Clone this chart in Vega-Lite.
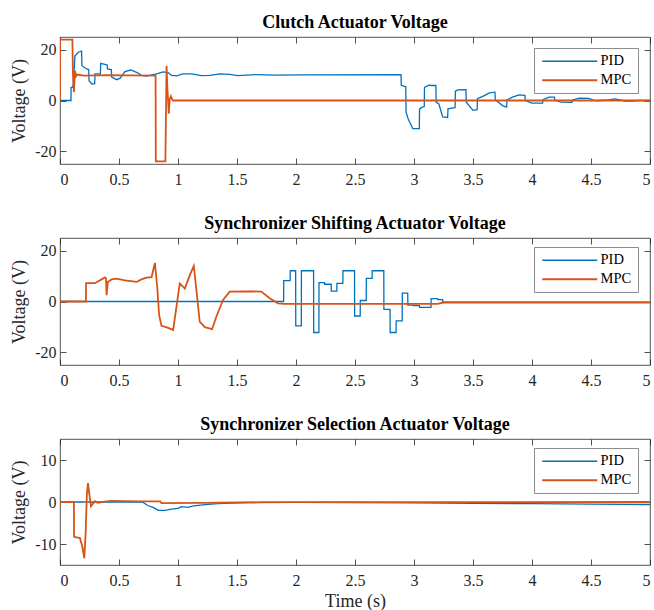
{
  "$schema": "https://vega.github.io/schema/vega-lite/v6.json",
  "padding": {"left": 10, "top": 13, "right": 2, "bottom": 2},
  "config": {
    "font": "Liberation Serif",
    "view": {"stroke": "#262626", "strokeWidth": 0.8},
    "axis": {"labelFont": "Liberation Serif", "labelFontSize": 16, "labelColor": "#262626", "tickColor": "#262626", "tickSize": -6, "tickWidth": 0.8, "labelPadding": 13, "domain": false, "grid": false, "titleFont": "Liberation Serif", "titleFontSize": 18, "titleFontWeight": "normal", "titleColor": "#262626"},
    "title": {"font": "Liberation Serif", "fontSize": 18, "fontWeight": "bold", "color": "#000000", "offset": 5},
    "legend": {"labelFont": "Liberation Serif", "labelFontSize": 14.5, "labelColor": "#000000"}
  },
  "datasets": {
    "p1": [
      {"s":"PID","t":0,"v":0},{"s":"PID","t":0.093,"v":0},{"s":"PID","t":0.094,"v":5.2},{"s":"PID","t":0.107,"v":5.2},{"s":"PID","t":0.112,"v":6},{"s":"PID","t":0.127,"v":17.6},{"s":"PID","t":0.155,"v":19},{"s":"PID","t":0.183,"v":19.4},{"s":"PID","t":0.186,"v":13.7},{"s":"PID","t":0.225,"v":12.4},{"s":"PID","t":0.243,"v":12.2},{"s":"PID","t":0.246,"v":7.8},{"s":"PID","t":0.27,"v":6.5},{"s":"PID","t":0.294,"v":6.6},{"s":"PID","t":0.297,"v":10.5},{"s":"PID","t":0.342,"v":10.5},{"s":"PID","t":0.345,"v":14.6},{"s":"PID","t":0.4,"v":14},{"s":"PID","t":0.402,"v":12.4},{"s":"PID","t":0.435,"v":12.2},{"s":"PID","t":0.438,"v":9.2},{"s":"PID","t":0.48,"v":8.2},{"s":"PID","t":0.51,"v":8.8},{"s":"PID","t":0.55,"v":11.4},{"s":"PID","t":0.6,"v":12},{"s":"PID","t":0.654,"v":11},{"s":"PID","t":0.69,"v":9.9},{"s":"PID","t":0.73,"v":9.6},{"s":"PID","t":0.818,"v":10.5},{"s":"PID","t":0.874,"v":11.3},{"s":"PID","t":0.916,"v":11},{"s":"PID","t":0.945,"v":9.9},{"s":"PID","t":0.99,"v":9.7},{"s":"PID","t":1.04,"v":10.5},{"s":"PID","t":1.114,"v":10.5},{"s":"PID","t":1.2,"v":9.8},{"s":"PID","t":1.27,"v":9.9},{"s":"PID","t":1.354,"v":10.5},{"s":"PID","t":1.438,"v":10.3},{"s":"PID","t":1.506,"v":9.8},{"s":"PID","t":1.66,"v":10.2},{"s":"PID","t":1.83,"v":10},{"s":"PID","t":2.06,"v":10.1},{"s":"PID","t":2.89,"v":10.2},{"s":"PID","t":2.892,"v":6.0},{"s":"PID","t":2.93,"v":5.4},{"s":"PID","t":2.933,"v":-4.6},{"s":"PID","t":2.95,"v":-7.2},{"s":"PID","t":2.99,"v":-11.1},{"s":"PID","t":3.045,"v":-11.1},{"s":"PID","t":3.047,"v":-3.3},{"s":"PID","t":3.07,"v":-2.6},{"s":"PID","t":3.087,"v":-2.4},{"s":"PID","t":3.089,"v":5.2},{"s":"PID","t":3.13,"v":6.1},{"s":"PID","t":3.153,"v":5.9},{"s":"PID","t":3.185,"v":5.9},{"s":"PID","t":3.188,"v":-0.7},{"s":"PID","t":3.21,"v":-1.3},{"s":"PID","t":3.243,"v":-6.5},{"s":"PID","t":3.285,"v":-6.7},{"s":"PID","t":3.288,"v":-3.3},{"s":"PID","t":3.33,"v":-2.9},{"s":"PID","t":3.348,"v":-2.8},{"s":"PID","t":3.351,"v":3.7},{"s":"PID","t":3.37,"v":4.2},{"s":"PID","t":3.44,"v":4.3},{"s":"PID","t":3.443,"v":-0.7},{"s":"PID","t":3.5,"v":-3.9},{"s":"PID","t":3.52,"v":-3.7},{"s":"PID","t":3.535,"v":-3.6},{"s":"PID","t":3.538,"v":0.7},{"s":"PID","t":3.6,"v":2.0},{"s":"PID","t":3.64,"v":3.0},{"s":"PID","t":3.686,"v":3.3},{"s":"PID","t":3.689,"v":0.3},{"s":"PID","t":3.75,"v":-2.0},{"s":"PID","t":3.785,"v":-2.6},{"s":"PID","t":3.788,"v":0.2},{"s":"PID","t":3.835,"v":1.3},{"s":"PID","t":3.89,"v":2.2},{"s":"PID","t":3.94,"v":2.0},{"s":"PID","t":3.943,"v":0},{"s":"PID","t":4.0,"v":-1.0},{"s":"PID","t":4.09,"v":-1.0},{"s":"PID","t":4.093,"v":0.3},{"s":"PID","t":4.145,"v":1.3},{"s":"PID","t":4.19,"v":1.3},{"s":"PID","t":4.193,"v":0.2},{"s":"PID","t":4.245,"v":-0.65},{"s":"PID","t":4.34,"v":-0.7},{"s":"PID","t":4.343,"v":0.2},{"s":"PID","t":4.4,"v":0.9},{"s":"PID","t":4.48,"v":0.8},{"s":"PID","t":4.54,"v":-0.1},{"s":"PID","t":4.65,"v":0.2},{"s":"PID","t":4.7,"v":0.65},{"s":"PID","t":4.79,"v":-0.2},{"s":"PID","t":4.85,"v":-0.25},{"s":"PID","t":4.9,"v":0},{"s":"PID","t":5,"v":0},
      {"s":"MPC","t":0,"v":0},{"s":"MPC","t":0.001,"v":24},{"s":"MPC","t":0.105,"v":24},{"s":"MPC","t":0.11,"v":10},{"s":"MPC","t":0.118,"v":3.3},{"s":"MPC","t":0.127,"v":11.8},{"s":"MPC","t":0.135,"v":9.5},{"s":"MPC","t":0.145,"v":10.2},{"s":"MPC","t":0.2,"v":9.8},{"s":"MPC","t":0.4,"v":10},{"s":"MPC","t":0.6,"v":9.9},{"s":"MPC","t":0.81,"v":9.8},{"s":"MPC","t":0.812,"v":-24},{"s":"MPC","t":0.893,"v":-24},{"s":"MPC","t":0.903,"v":13.7},{"s":"MPC","t":0.91,"v":5},{"s":"MPC","t":0.922,"v":-5.2},{"s":"MPC","t":0.93,"v":0.5},{"s":"MPC","t":0.94,"v":1.7},{"s":"MPC","t":0.955,"v":0},{"s":"MPC","t":5,"v":0}
    ],
    "p2": [
      {"s":"PID","t":0,"v":0},{"s":"PID","t":1.895,"v":0},{"s":"PID","t":1.896,"v":8.2},{"s":"PID","t":1.95,"v":8.2},{"s":"PID","t":1.951,"v":12.1},{"s":"PID","t":1.997,"v":12.1},{"s":"PID","t":1.998,"v":-9.6},{"s":"PID","t":2.045,"v":-9.6},{"s":"PID","t":2.046,"v":12.1},{"s":"PID","t":2.149,"v":12.1},{"s":"PID","t":2.15,"v":-12.2},{"s":"PID","t":2.194,"v":-12.2},{"s":"PID","t":2.195,"v":7.4},{"s":"PID","t":2.242,"v":7.4},{"s":"PID","t":2.243,"v":6.8},{"s":"PID","t":2.298,"v":6.8},{"s":"PID","t":2.299,"v":4.1},{"s":"PID","t":2.346,"v":4.1},{"s":"PID","t":2.347,"v":7.1},{"s":"PID","t":2.397,"v":7.1},{"s":"PID","t":2.398,"v":12.1},{"s":"PID","t":2.496,"v":12.1},{"s":"PID","t":2.497,"v":-5.7},{"s":"PID","t":2.544,"v":-5.7},{"s":"PID","t":2.545,"v":0.4},{"s":"PID","t":2.595,"v":0.4},{"s":"PID","t":2.596,"v":9.1},{"s":"PID","t":2.645,"v":9.1},{"s":"PID","t":2.646,"v":12.1},{"s":"PID","t":2.744,"v":12.1},{"s":"PID","t":2.745,"v":-3.1},{"s":"PID","t":2.797,"v":-3.1},{"s":"PID","t":2.798,"v":-12.2},{"s":"PID","t":2.848,"v":-12.2},{"s":"PID","t":2.849,"v":-7.6},{"s":"PID","t":2.9,"v":-7.6},{"s":"PID","t":2.901,"v":3.3},{"s":"PID","t":2.947,"v":3.3},{"s":"PID","t":2.948,"v":-1.4},{"s":"PID","t":2.995,"v":-1.4},{"s":"PID","t":2.996,"v":-1.6},{"s":"PID","t":3.046,"v":-1.6},{"s":"PID","t":3.047,"v":-2.3},{"s":"PID","t":3.144,"v":-2.3},{"s":"PID","t":3.145,"v":1.1},{"s":"PID","t":3.2,"v":1.1},{"s":"PID","t":3.201,"v":0.7},{"s":"PID","t":3.243,"v":0.7},{"s":"PID","t":3.244,"v":-0.3},{"s":"PID","t":5,"v":-0.3},
      {"s":"MPC","t":0,"v":0},{"s":"MPC","t":0.22,"v":0},{"s":"MPC","t":0.221,"v":7.2},{"s":"MPC","t":0.296,"v":7.2},{"s":"MPC","t":0.367,"v":9.1},{"s":"MPC","t":0.38,"v":9.5},{"s":"MPC","t":0.39,"v":9.2},{"s":"MPC","t":0.395,"v":2.5},{"s":"MPC","t":0.405,"v":7.7},{"s":"MPC","t":0.437,"v":8.7},{"s":"MPC","t":0.48,"v":9.0},{"s":"MPC","t":0.55,"v":8.3},{"s":"MPC","t":0.649,"v":7.7},{"s":"MPC","t":0.69,"v":8.7},{"s":"MPC","t":0.733,"v":9.4},{"s":"MPC","t":0.776,"v":9.6},{"s":"MPC","t":0.804,"v":15.2},{"s":"MPC","t":0.824,"v":5.7},{"s":"MPC","t":0.84,"v":-5.3},{"s":"MPC","t":0.86,"v":-9.6},{"s":"MPC","t":0.9,"v":-10.1},{"s":"MPC","t":0.959,"v":-11.2},{"s":"MPC","t":1.015,"v":7.1},{"s":"MPC","t":1.058,"v":5.1},{"s":"MPC","t":1.1,"v":10.4},{"s":"MPC","t":1.134,"v":14},{"s":"MPC","t":1.156,"v":4.5},{"s":"MPC","t":1.184,"v":-7.9},{"s":"MPC","t":1.227,"v":-10.1},{"s":"MPC","t":1.289,"v":-10.9},{"s":"MPC","t":1.326,"v":-5.8},{"s":"MPC","t":1.382,"v":0.6},{"s":"MPC","t":1.438,"v":3.9},{"s":"MPC","t":1.6,"v":4.0},{"s":"MPC","t":1.706,"v":3.9},{"s":"MPC","t":1.777,"v":1.3},{"s":"MPC","t":1.847,"v":-0.7},{"s":"MPC","t":1.9,"v":-0.9},{"s":"MPC","t":3.2,"v":-0.9},{"s":"MPC","t":3.25,"v":-0.4},{"s":"MPC","t":5,"v":-0.4}
    ],
    "p3": [
      {"s":"PID","t":0,"v":0},{"s":"PID","t":0.697,"v":0},{"s":"PID","t":0.747,"v":-0.9},{"s":"PID","t":0.79,"v":-1.3},{"s":"PID","t":0.832,"v":-2.0},{"s":"PID","t":0.888,"v":-2.0},{"s":"PID","t":0.945,"v":-1.7},{"s":"PID","t":1.0,"v":-1.5},{"s":"PID","t":1.03,"v":-1.1},{"s":"PID","t":1.086,"v":-1.3},{"s":"PID","t":1.12,"v":-1.0},{"s":"PID","t":1.17,"v":-0.8},{"s":"PID","t":1.255,"v":-0.55},{"s":"PID","t":1.34,"v":-0.4},{"s":"PID","t":1.452,"v":-0.25},{"s":"PID","t":1.59,"v":-0.15},{"s":"PID","t":2.0,"v":-0.1},{"s":"PID","t":2.5,"v":-0.12},{"s":"PID","t":3.0,"v":-0.2},{"s":"PID","t":3.5,"v":-0.3},{"s":"PID","t":4.0,"v":-0.4},{"s":"PID","t":4.5,"v":-0.5},{"s":"PID","t":5,"v":-0.6},
      {"s":"MPC","t":0,"v":0},{"s":"MPC","t":0.118,"v":0},{"s":"MPC","t":0.119,"v":-8.3},{"s":"MPC","t":0.169,"v":-8.6},{"s":"MPC","t":0.189,"v":-10.6},{"s":"MPC","t":0.206,"v":-13.4},{"s":"MPC","t":0.217,"v":-7.5},{"s":"MPC","t":0.228,"v":2.0},{"s":"MPC","t":0.237,"v":4.5},{"s":"MPC","t":0.248,"v":2.0},{"s":"MPC","t":0.262,"v":-1.0},{"s":"MPC","t":0.279,"v":-0.4},{"s":"MPC","t":0.296,"v":0.2},{"s":"MPC","t":0.32,"v":-0.2},{"s":"MPC","t":0.38,"v":0.1},{"s":"MPC","t":0.437,"v":0.25},{"s":"MPC","t":0.663,"v":0.15},{"s":"MPC","t":0.85,"v":0.15},{"s":"MPC","t":0.86,"v":-0.25},{"s":"MPC","t":1.2,"v":-0.2},{"s":"MPC","t":1.7,"v":-0.05},{"s":"MPC","t":5,"v":0}
    ]
  },
  "vconcat": [
    {
      "title": "Clutch Actuator Voltage",
      "width": 590, "height": 127,
      "data": {"name": "p1"},
      "layer": [
        {"mark": {"type": "line", "clip": true},
         "encoding": {
           "x": {"field": "t", "type": "quantitative", "scale": {"domain": [0, 5], "nice": false}, "axis": {"title": null, "values": [0,0.5,1,1.5,2,2.5,3,3.5,4,4.5,5], "labelExpr": "'' + datum.value"}},
           "y": {"field": "v", "type": "quantitative", "scale": {"domain": [-25, 25], "nice": false}, "axis": {"title": "Voltage (V)", "values": [-20,0,20], "labelExpr": "'' + datum.value", "labelPadding": 10, "titlePadding": 6}},
           "strokeWidth": {"field": "s", "type": "nominal", "scale": {"domain": ["PID","MPC"], "range": [1.3, 1.8]}, "legend": null},
           "color": {"field": "s", "type": "nominal", "scale": {"domain": ["PID","MPC"], "range": ["#0072BD","#D95319"]}, "legend": {"title": null, "orient": "none", "legendX": 474, "legendY": 11, "symbolType": "M-1,0H10", "symbolSize": 100, "symbolStrokeWidth": 1.4, "labelOffset": 46, "strokeColor": "#8c8c8c", "fillColor": "#ffffff", "padding": 6, "rowPadding": 4}}
         }},
        {"mark": {"type": "line", "opacity": 0},
         "encoding": {
           "x": {"field": "t", "type": "quantitative", "axis": {"orient": "top", "title": null, "labels": false, "values": [0,0.5,1,1.5,2,2.5,3,3.5,4,4.5,5]}},
           "y": {"field": "v", "type": "quantitative", "axis": {"orient": "right", "title": null, "labels": false, "values": [-20,0,20]}}
         }}
      ],
      "resolve": {"axis": {"x": "independent", "y": "independent"}}
    },
    {
      "title": "Synchronizer Shifting Actuator Voltage",
      "width": 590, "height": 127,
      "data": {"name": "p2"},
      "layer": [
        {"mark": {"type": "line", "clip": true},
         "encoding": {
           "x": {"field": "t", "type": "quantitative", "scale": {"domain": [0, 5], "nice": false}, "axis": {"title": null, "values": [0,0.5,1,1.5,2,2.5,3,3.5,4,4.5,5], "labelExpr": "'' + datum.value"}},
           "y": {"field": "v", "type": "quantitative", "scale": {"domain": [-25, 25], "nice": false}, "axis": {"title": "Voltage (V)", "values": [-20,0,20], "labelExpr": "'' + datum.value", "labelPadding": 10, "titlePadding": 6}},
           "strokeWidth": {"field": "s", "type": "nominal", "scale": {"domain": ["PID","MPC"], "range": [1.3, 1.8]}, "legend": null},
           "color": {"field": "s", "type": "nominal", "scale": {"domain": ["PID","MPC"], "range": ["#0072BD","#D95319"]}, "legend": {"title": null, "orient": "none", "legendX": 474, "legendY": 9, "symbolType": "M-1,0H10", "symbolSize": 100, "symbolStrokeWidth": 1.4, "labelOffset": 46, "strokeColor": "#8c8c8c", "fillColor": "#ffffff", "padding": 6, "rowPadding": 4}}
         }},
        {"mark": {"type": "line", "opacity": 0},
         "encoding": {
           "x": {"field": "t", "type": "quantitative", "axis": {"orient": "top", "title": null, "labels": false, "values": [0,0.5,1,1.5,2,2.5,3,3.5,4,4.5,5]}},
           "y": {"field": "v", "type": "quantitative", "axis": {"orient": "right", "title": null, "labels": false, "values": [-20,0,20]}}
         }}
      ],
      "resolve": {"axis": {"x": "independent", "y": "independent"}}
    },
    {
      "title": "Synchronizer Selection Actuator Voltage",
      "width": 590, "height": 126,
      "data": {"name": "p3"},
      "layer": [
        {"mark": {"type": "line", "clip": true},
         "encoding": {
           "x": {"field": "t", "type": "quantitative", "scale": {"domain": [0, 5], "nice": false}, "axis": {"title": "Time (s)", "values": [0,0.5,1,1.5,2,2.5,3,3.5,4,4.5,5], "labelExpr": "'' + datum.value", "titlePadding": 4}},
           "y": {"field": "v", "type": "quantitative", "scale": {"domain": [-15, 15], "nice": false}, "axis": {"title": "Voltage (V)", "values": [-10,0,10], "labelExpr": "'' + datum.value", "labelPadding": 10, "titlePadding": 6}},
           "strokeWidth": {"field": "s", "type": "nominal", "scale": {"domain": ["PID","MPC"], "range": [1.3, 1.8]}, "legend": null},
           "color": {"field": "s", "type": "nominal", "scale": {"domain": ["PID","MPC"], "range": ["#0072BD","#D95319"]}, "legend": {"title": null, "orient": "none", "legendX": 474, "legendY": 9, "symbolType": "M-1,0H10", "symbolSize": 100, "symbolStrokeWidth": 1.4, "labelOffset": 46, "strokeColor": "#8c8c8c", "fillColor": "#ffffff", "padding": 6, "rowPadding": 4}}
         }},
        {"mark": {"type": "line", "opacity": 0},
         "encoding": {
           "x": {"field": "t", "type": "quantitative", "axis": {"orient": "top", "title": null, "labels": false, "values": [0,0.5,1,1.5,2,2.5,3,3.5,4,4.5,5]}},
           "y": {"field": "v", "type": "quantitative", "axis": {"orient": "right", "title": null, "labels": false, "values": [-10,0,10]}}
         }}
      ],
      "resolve": {"axis": {"x": "independent", "y": "independent"}}
    }
  ],
  "spacing": 26,
  "resolve": {"scale": {"y": "independent", "color": "independent", "strokeWidth": "independent"}, "legend": {"color": "independent"}}
}
